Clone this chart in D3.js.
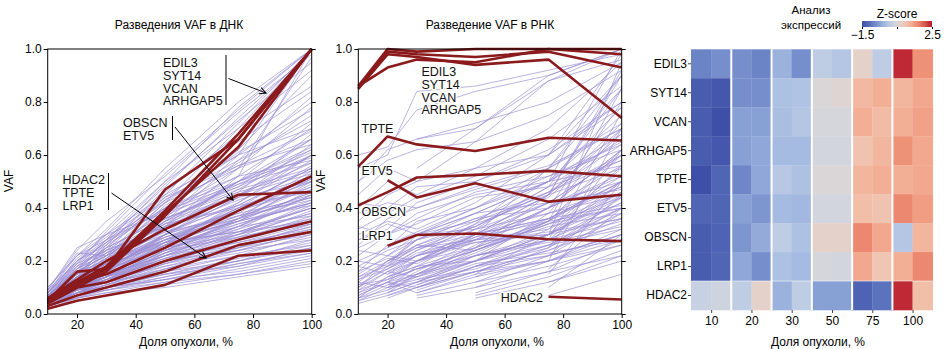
<!DOCTYPE html>
<html>
<head>
<meta charset="utf-8">
<script src="https://cdn.jsdelivr.net/npm/d3@7"></script>
<style>
  body { margin: 0; background: #fff; }
  svg { font-family: "Liberation Sans", Arial, sans-serif; }
</style>
</head>
<body>
<div id="chart"></div>
<script>
// dilution points (tumour share, %)
var xVals = [10, 20, 30, 50, 75, 100];
var genes = ["EDIL3", "SYT14", "VCAN", "ARHGAP5", "TPTE", "ETV5", "OBSCN", "LRP1", "HDAC2"];

// highlighted genes, DNA VAF
var dnaRed = [
  [0.05, 0.16, 0.17, 0.47, 0.66, 1.0],
  [0.04, 0.11, 0.17, 0.38, 0.63, 1.0],
  [0.04, 0.10, 0.16, 0.37, 0.66, 1.0],
  [0.05, 0.12, 0.18, 0.39, 0.68, 1.0],
  [0.06, 0.13, 0.20, 0.32, 0.45, 0.46],
  [0.05, 0.12, 0.15, 0.25, 0.39, 0.52],
  [0.04, 0.10, 0.12, 0.20, 0.28, 0.35],
  [0.03, 0.07, 0.10, 0.16, 0.26, 0.31],
  [0.02, 0.05, 0.07, 0.11, 0.22, 0.24]
];

// highlighted genes, RNA VAF
var rnaRed = [
  [0.86, 1.0, 0.99, 1.0, 1.0, 1.0],
  [0.85, 0.98, 0.97, 0.94, 0.96, 0.74],
  [0.86, 0.93, 0.96, 0.95, 1.0, 0.98],
  [0.85, 0.99, 0.98, 0.97, 0.99, 0.93],
  [0.556, 0.67, 0.64, 0.615, 0.665, 0.655],
  [0.41, 0.46, 0.515, 0.525, 0.54, 0.52],
  [null, 0.505, 0.44, 0.493, 0.424, 0.45],
  [null, 0.257, 0.298, 0.304, 0.282, 0.275],
  [null, null, null, null, 0.065, 0.055]
];

// all other variants, DNA VAF
var dnaOther = [
  [0.08,0.2,0.3,0.5,0.78,1.0],[0.06,0.15,0.25,0.45,0.72,1.0],[0.1,0.22,0.32,0.55,0.8,1.0],
  [0.05,0.12,0.22,0.42,0.7,1.0],[0.07,0.18,0.28,0.48,0.74,0.99],[0.04,0.1,0.2,0.36,0.6,1.0],
  [0.06,0.14,0.24,0.44,0.62,1.0],[0.09,0.24,0.35,0.52,0.76,0.98],[0.05,0.13,0.19,0.33,0.55,0.97],
  [0.03,0.09,0.14,0.3,0.52,1.0],[0.07,0.16,0.22,0.4,0.62,0.9],[0.06,0.17,0.26,0.46,0.68,0.86],
  [0.05,0.11,0.18,0.35,0.58,0.82],[0.08,0.19,0.27,0.43,0.6,0.8],[0.04,0.12,0.2,0.38,0.55,0.78],
  [0.06,0.14,0.21,0.4,0.57,0.75],[0.05,0.13,0.2,0.34,0.5,0.72],[0.07,0.16,0.24,0.38,0.52,0.7],
  [0.04,0.1,0.17,0.3,0.46,0.68],[0.06,0.15,0.23,0.36,0.48,0.66],[0.05,0.12,0.16,0.3,0.44,0.64],
  [0.08,0.2,0.26,0.4,0.5,0.63],[0.05,0.11,0.18,0.32,0.47,0.62],[0.04,0.09,0.14,0.26,0.42,0.6],
  [0.06,0.14,0.2,0.35,0.45,0.6],[0.05,0.12,0.19,0.3,0.42,0.58],[0.07,0.16,0.22,0.33,0.45,0.57],
  [0.04,0.1,0.15,0.27,0.4,0.56],[0.06,0.13,0.2,0.31,0.41,0.55],[0.05,0.12,0.17,0.29,0.38,0.54],
  [0.03,0.08,0.13,0.24,0.36,0.53],[0.06,0.15,0.21,0.32,0.43,0.52],[0.05,0.11,0.16,0.27,0.37,0.51],
  [0.04,0.1,0.15,0.25,0.35,0.5],[0.07,0.17,0.23,0.34,0.4,0.5],[0.05,0.12,0.18,0.28,0.36,0.49],
  [0.06,0.14,0.19,0.3,0.39,0.48],[0.04,0.09,0.13,0.23,0.33,0.47],[0.05,0.11,0.17,0.27,0.35,0.46],
  [0.08,0.18,0.24,0.33,0.41,0.46],[0.03,0.08,0.12,0.22,0.32,0.45],[0.05,0.13,0.18,0.28,0.37,0.45],
  [0.06,0.14,0.2,0.29,0.36,0.44],[0.04,0.1,0.14,0.24,0.33,0.43],[0.05,0.12,0.16,0.26,0.34,0.42],
  [0.07,0.15,0.19,0.28,0.35,0.42],[0.04,0.09,0.13,0.22,0.3,0.41],[0.05,0.11,0.15,0.25,0.32,0.4],
  [0.06,0.13,0.18,0.27,0.31,0.4],[0.03,0.08,0.12,0.2,0.29,0.39],[0.05,0.1,0.14,0.23,0.31,0.38],
  [0.04,0.12,0.17,0.25,0.3,0.38],[0.06,0.14,0.19,0.26,0.33,0.37],[0.05,0.1,0.13,0.21,0.28,0.36],
  [0.04,0.09,0.14,0.22,0.29,0.35],[0.07,0.16,0.2,0.27,0.31,0.35],[0.04,0.1,0.13,0.2,0.27,0.34],
  [0.05,0.11,0.14,0.21,0.26,0.33],[0.03,0.08,0.11,0.18,0.25,0.32],[0.06,0.12,0.15,0.22,0.27,0.32],
  [0.04,0.09,0.12,0.19,0.24,0.31],[0.05,0.1,0.14,0.2,0.25,0.3],[0.03,0.07,0.1,0.16,0.22,0.3],
  [0.04,0.09,0.13,0.18,0.23,0.29],[0.06,0.13,0.16,0.2,0.24,0.28],[0.03,0.08,0.1,0.15,0.21,0.27],
  [0.04,0.09,0.12,0.17,0.22,0.26],[0.05,0.1,0.12,0.16,0.2,0.25],[0.03,0.07,0.09,0.14,0.19,0.24],
  [0.04,0.08,0.11,0.15,0.18,0.23],[0.03,0.06,0.08,0.12,0.17,0.22],[0.05,0.09,0.1,0.13,0.16,0.21],
  [0.02,0.05,0.07,0.11,0.15,0.2],[0.04,0.07,0.09,0.12,0.15,0.19],[0.03,0.06,0.08,0.1,0.14,0.18],
  [0.09,0.25,0.3,0.45,0.6,0.7],[0.08,0.23,0.22,0.35,0.5,0.62],[0.1,0.22,0.28,0.42,0.55,0.66],
  [0.06,0.2,0.27,0.4,0.52,0.58],[0.07,0.21,0.29,0.44,0.56,0.64],[0.05,0.18,0.25,0.36,0.47,0.55],
  [0.08,0.22,0.3,0.38,0.48,0.6],[0.06,0.19,0.24,0.33,0.44,0.5],[0.05,0.16,0.22,0.3,0.38,0.44],
  [0.04,0.14,0.2,0.28,0.35,0.41],[0.06,0.17,0.23,0.31,0.37,0.43],[0.05,0.15,0.21,0.34,0.45,0.53],
  [0.07,0.13,0.19,0.37,0.5,0.59],[0.04,0.11,0.18,0.35,0.49,0.61],[0.05,0.12,0.21,0.41,0.56,0.69],
  [0.06,0.15,0.25,0.43,0.58,0.73],[0.04,0.13,0.23,0.42,0.61,0.77],[0.05,0.14,0.26,0.47,0.65,0.84],
  [0.07,0.17,0.28,0.5,0.7,0.92],[0.06,0.16,0.27,0.49,0.73,0.95],[0.08,0.19,0.31,0.53,0.77,1.0],
  [0.04,0.1,0.16,0.28,0.39,0.47],[0.05,0.09,0.15,0.26,0.36,0.44],[0.03,0.1,0.14,0.24,0.34,0.42],
  [0.04,0.11,0.16,0.23,0.3,0.36],[0.05,0.13,0.17,0.24,0.29,0.34],[0.03,0.09,0.12,0.19,0.26,0.33],
  [0.04,0.08,0.11,0.17,0.24,0.31],[0.02,0.06,0.1,0.17,0.25,0.34],[0.03,0.07,0.11,0.19,0.28,0.37],
  [0.04,0.08,0.13,0.21,0.31,0.4],[0.05,0.09,0.14,0.24,0.35,0.46],[0.03,0.08,0.12,0.23,0.36,0.48],
  [0.06,0.11,0.15,0.26,0.4,0.52],[0.04,0.1,0.14,0.27,0.41,0.55],[0.05,0.1,0.17,0.3,0.44,0.6],
  [0.06,0.12,0.19,0.33,0.5,0.66],[0.08,0.17,0.25,0.36,0.46,0.54],[0.09,0.2,0.28,0.39,0.49,0.57],
  [0.07,0.14,0.19,0.29,0.39,0.5],[0.06,0.12,0.17,0.28,0.4,0.51],[0.05,0.11,0.15,0.22,0.33,0.45],
  [0.04,0.09,0.12,0.2,0.3,0.42],[0.03,0.07,0.1,0.14,0.2,0.28],[0.04,0.08,0.1,0.13,0.18,0.25],
  [0.05,0.08,0.1,0.15,0.2,0.26],[0.03,0.06,0.09,0.13,0.19,0.23]
];

// all other variants, RNA VAF (null = not detected at that dilution)
var rnaOther = [
  [0.05,0.1,0.12,0.2,0.3,0.45],[0.08,0.14,0.18,0.25,0.35,0.5],[0.1,0.18,0.22,0.3,0.42,0.6],
  [0.12,0.2,0.28,0.38,0.5,0.75],[0.06,0.09,0.15,0.22,0.28,0.35],[0.15,0.22,0.3,0.35,0.45,0.55],
  [0.2,0.25,0.35,0.4,0.55,0.7],[0.25,0.3,0.38,0.45,0.5,0.65],[0.3,0.35,0.32,0.42,0.6,0.9],
  [0.35,0.45,0.5,0.55,0.7,0.95],[0.6,0.63,0.77,0.84,0.9,1.0],[0.55,0.6,0.84,0.86,0.92,0.98],
  [0.5,0.62,0.66,0.7,0.88,1.0],[0.4,0.5,0.45,0.55,0.6,0.8],[0.45,0.55,0.5,0.65,0.75,0.92],
  [0.38,0.42,0.4,0.48,0.56,0.7],[0.1,0.16,0.2,0.32,0.48,0.85],[0.07,0.12,0.15,0.26,0.4,0.62],
  [0.04,0.07,0.1,0.18,0.25,0.4],[0.09,0.13,0.2,0.28,0.32,0.46],[0.18,0.24,0.28,0.36,0.4,0.52],
  [0.22,0.3,0.34,0.44,0.48,0.58],[0.28,0.32,0.42,0.5,0.62,0.8],[0.13,0.19,0.25,0.3,0.38,0.48],
  [0.11,0.17,0.24,0.34,0.44,0.68],[0.05,0.08,0.12,0.16,0.22,0.3],[0.06,0.11,0.14,0.2,0.26,0.38],
  [0.16,0.26,0.31,0.4,0.52,0.64],[0.14,0.2,0.26,0.33,0.46,0.58],[0.32,0.38,0.44,0.52,0.66,0.86],
  [0.26,0.36,0.4,0.47,0.55,0.72],[0.08,0.12,0.17,0.24,0.34,0.44],
  [0.07,0.12,0.08,0.15,0.2,0.28],[0.12,0.1,0.18,0.2,0.3,0.42],[0.18,0.15,0.22,0.28,0.3,0.46],
  [0.09,0.16,0.14,0.24,0.33,0.38],[0.14,0.18,0.26,0.24,0.36,0.5],[0.2,0.18,0.3,0.32,0.42,0.47],
  [0.24,0.22,0.28,0.36,0.46,0.6],[0.1,0.2,0.25,0.28,0.4,0.53],[0.06,0.14,0.2,0.3,0.36,0.41],
  [0.11,0.13,0.17,0.22,0.27,0.33],[0.16,0.21,0.19,0.29,0.35,0.4],[0.13,0.17,0.22,0.27,0.3,0.36],
  [0.28,0.34,0.3,0.4,0.5,0.56],[0.33,0.3,0.36,0.46,0.52,0.62],[0.42,0.4,0.48,0.5,0.6,0.78],
  [null,0.06,0.1,0.16,0.24,0.36],[null,0.08,0.12,0.2,0.3,0.44],[null,0.1,0.16,0.28,0.36,0.5],
  [null,0.12,0.2,0.25,0.4,0.62],[null,0.14,0.18,0.3,0.45,0.7],[null,0.07,0.11,0.18,0.22,0.3],
  [null,0.2,0.26,0.35,0.5,0.78],[null,0.16,0.22,0.34,0.55,0.9],[null,0.09,0.14,0.22,0.28,0.4],
  [null,0.25,0.3,0.38,0.42,0.5],[null,0.18,0.24,0.32,0.38,0.45],[null,0.11,0.15,0.2,0.32,0.55],
  [null,0.1,0.13,0.17,0.26,0.32],[null,0.13,0.17,0.24,0.34,0.4],[null,0.15,0.2,0.27,0.31,0.36],
  [null,0.22,0.2,0.3,0.36,0.48],[null,0.17,0.23,0.29,0.42,0.6],[null,0.08,0.15,0.23,0.35,0.52],
  [null,0.19,0.28,0.33,0.48,0.66],[null,0.12,0.1,0.16,0.2,0.26],
  [null,null,0.06,0.1,0.16,0.22],[null,null,0.08,0.14,0.2,0.3],[null,null,0.1,0.18,0.26,0.4],
  [null,null,0.12,0.22,0.3,0.5],[null,null,0.15,0.25,0.35,0.6],[null,null,0.2,0.3,0.45,0.72],
  [null,null,0.66,0.72,0.8,0.95],[null,null,0.07,0.12,0.18,0.26],[null,null,0.3,0.38,0.5,0.68],
  [null,null,0.55,0.7,0.9,1.0],[0.5,0.58,0.62,0.65,0.88,0.96],
  [null,null,0.09,0.16,0.24,0.34],[null,null,0.13,0.2,0.28,0.42],[null,null,0.17,0.24,0.34,0.46],
  [null,null,0.11,0.19,0.23,0.28],[null,null,0.22,0.28,0.4,0.56],[null,null,0.25,0.33,0.46,0.64],
  [null,null,null,0.06,0.12,0.2],[null,null,null,0.08,0.16,0.28],[null,null,null,0.12,0.22,0.38],
  [null,null,null,0.15,0.3,0.56],[null,null,null,0.2,0.38,0.7],[null,null,null,0.3,0.55,0.85],
  [null,null,null,0.1,0.2,0.32],[null,null,null,0.25,0.45,0.9],
  [null,null,null,0.07,0.14,0.24],[null,null,null,0.14,0.25,0.44],[null,null,null,0.18,0.28,0.5],
  [null,null,null,0.22,0.35,0.62],
  [null,null,null,null,0.07,0.15],[null,null,null,null,0.1,0.3],[null,null,null,null,0.15,0.5],
  [null,null,null,null,0.2,0.7],[null,null,null,null,0.3,0.95],[null,null,null,null,0.35,0.85],
  [null,null,null,null,0.12,0.22],[null,null,null,null,0.5,1.0],[null,null,null,null,0.6,0.98],
  [null,null,null,null,0.45,0.92],[null,null,null,null,0.17,0.4],[null,null,null,null,0.25,0.62],
  [null,null,null,null,0.4,0.8],[null,null,null,null,0.22,0.45],[null,null,null,null,0.28,0.76]
];

// expression heatmap: 6 dilutions x 2 replicates, z-scores
var heatGroups = ["10", "20", "30", "50", "75", "100"];
var heatZ = [
  [-0.82, -0.7, -0.7, -0.82, -0.3, -0.7, 0.1, -0.02, 0.7, 0.1, 2.38, 1.62],
  [-1.3, -1.38, -0.7, -0.7, -0.1, -0.06, 0.5, 0.58, 1.18, 1.3, 1.22, 1.38],
  [-1.3, -1.5, -0.5, -0.5, -0.14, -0.02, 0.42, 0.42, 1.3, 1.14, 1.3, 1.46],
  [-1.3, -1.38, -0.5, -0.42, -0.18, -0.18, 0.38, 0.38, 1.02, 1.22, 1.62, 1.38],
  [-1.5, -1.18, -0.78, -0.42, 0.02, -0.1, 0.5, 0.5, 1.22, 1.3, 1.3, 1.38],
  [-1.18, -1.18, -0.5, -0.62, -0.18, -0.22, 0.38, 0.38, 1.1, 1.02, 1.7, 1.5],
  [-1.3, -1.22, -0.62, -0.38, 0.1, -0.1, 0.7, 0.7, 1.7, 1.38, -0.02, 1.22],
  [-1.3, -1.18, -0.42, -0.7, -0.1, -0.18, 0.42, 0.38, 1.38, 0.98, 1.3, 1.7],
  [0.22, 0.3, 0.1, 0.7, -0.3, 0.1, -0.5, -0.5, -1.22, -1.02, 2.38, 1.1]
];
var zRange = [-1.5, 2.5];

var W = 946, H = 349;
var redColor = "#8b1a1c", purple = "#9a8dd4";

var svg = d3.select("#chart").append("svg")
  .attr("width", W).attr("height", H);

var y = d3.scaleLinear().domain([0, 1]).range([314, 49]);

function drawPanel(x0, x1, title, titleX, xlabX, yLabX, redData, otherData) {
  var x = d3.scaleLinear().domain([10, 100]).range([x0, x1]);
  var line = d3.line()
    .defined(function (d) { return d[1] != null; })
    .x(function (d) { return x(d[0]); })
    .y(function (d) { return y(d[1]); });
  var pts = function (arr) { return arr.map(function (v, i) { return [xVals[i], v]; }); };

  var g = svg.append("g");
  g.append("g").selectAll("path").data(otherData).join("path")
    .attr("d", function (d) { return line(pts(d)); })
    .attr("fill", "none").attr("stroke", purple)
    .attr("stroke-width", 0.8).attr("opacity", 0.85);
  g.append("g").selectAll("path").data(redData).join("path")
    .attr("d", function (d) { return line(pts(d)); })
    .attr("fill", "none").attr("stroke", redColor)
    .attr("stroke-width", 2.6).attr("stroke-linejoin", "round");

  // frame and axes
  g.append("rect").attr("x", x0).attr("y", y(1)).attr("width", x1 - x0).attr("height", y(0) - y(1))
    .attr("fill", "none").attr("stroke", "#000").attr("stroke-width", 1);
  var yt = [0, 0.2, 0.4, 0.6, 0.8, 1.0];
  g.append("g").attr("transform", "translate(" + x0 + ",0)")
    .call(d3.axisLeft(y).tickValues(yt).tickFormat(d3.format(".1f")).tickSize(4).tickPadding(2));
  g.append("g").attr("transform", "translate(" + x1 + ",0)")
    .call(d3.axisRight(y).tickValues(yt).tickFormat("").tickSize(4));
  g.append("g").attr("transform", "translate(0," + y(0) + ")")
    .call(d3.axisBottom(x).tickValues([20, 40, 60, 80, 100]).tickSize(4).tickPadding(2));
  g.selectAll(".domain").remove();
  g.selectAll(".tick text").attr("font-size", 12).attr("font-family", "Liberation Sans, Arial, sans-serif").attr("fill", "#000");

  g.append("text").attr("x", titleX).attr("y", 29).attr("text-anchor", "middle")
    .attr("font-size", 12).text(title);
  g.append("text").attr("x", xlabX).attr("y", 346).attr("text-anchor", "middle")
    .attr("font-size", 12).text("Доля опухоли, %");
  g.append("text").attr("transform", "translate(" + yLabX + ",181) rotate(-90)")
    .attr("text-anchor", "middle").attr("font-size", 12).text("VAF");
  return g;
}

function label(g, txt, x, yy, anchor) {
  g.append("text").attr("x", x).attr("y", yy).attr("font-size", 12.5)
    .attr("text-anchor", anchor || "start")
    .attr("stroke", "#fff").attr("stroke-width", 2.5).attr("paint-order", "stroke")
    .attr("fill", "#111").text(txt);
}

svg.append("defs").append("marker").attr("id", "arr")
  .attr("viewBox", "0 0 10 10").attr("refX", 9).attr("refY", 5)
  .attr("markerWidth", 8).attr("markerHeight", 8).attr("orient", "auto")
  .append("path").attr("d", "M1,1 L9,5 L1,9").attr("fill", "none")
  .attr("stroke", "#000").attr("stroke-width", 1.3);

// --- DNA panel
var gL = drawPanel(47.7, 311.7, "Разведения VAF в ДНК", 179, 186, 13, dnaRed, dnaOther);
function group(g, names, x, y0, step, barX, barY0, barY1, ax0, ay0, ax1, ay1) {
  names.forEach(function (n, i) { label(g, n, x, y0 + i * step); });
  g.append("line").attr("x1", barX).attr("x2", barX).attr("y1", barY0).attr("y2", barY1)
    .attr("stroke", "#000").attr("stroke-width", 1);
  g.append("line").attr("x1", ax0).attr("y1", ay0).attr("x2", ax1).attr("y2", ay1)
    .attr("stroke", "#000").attr("stroke-width", 1).attr("marker-end", "url(#arr)");
}
group(gL, ["EDIL3", "SYT14", "VCAN", "ARHGAP5"], 163, 67, 12.8, 226, 55, 105, 228.5, 78.5, 266, 93);
group(gL, ["OBSCN", "ETV5"], 123, 127, 12.8, 172.5, 116, 140, 175, 127, 233, 200);
group(gL, ["HDAC2", "TPTE", "LRP1"], 62.5, 184, 13.2, 108.5, 173, 210, 111.5, 193, 206, 258);

// --- RNA panel
var gM = drawPanel(358.3, 621.7, "Разведение VAF в РНК", 490, 497, 325, rnaRed, rnaOther);
["EDIL3", "SYT14", "VCAN", "ARHGAP5"].forEach(function (n, i) { label(gM, n, 421.5, 76 + i * 12.8); });
label(gM, "TPTE", 361.5, 132.5);
label(gM, "ETV5", 361.5, 174.5);
label(gM, "OBSCN", 361.5, 216);
label(gM, "LRP1", 361.5, 239.5);
label(gM, "HDAC2", 543, 301.5, "end");

// --- expression heatmap
var cols = d3.range(12);
var hx = d3.scaleBand().domain(cols).range([691, 932.7]);
var hy = d3.scaleBand().domain(genes).range([49.3, 310]);
var coolwarm = d3.interpolateRgbBasis(["#3d4fa6", "#5a72bd", "#88a2d6", "#b8cbea", "#dcdcdc",
  "#f3c7b2", "#f4a084", "#df6650", "#b4162c"]);
var color = d3.scaleSequential(coolwarm).domain(zRange).clamp(true);

var gH = svg.append("g");
var cells = [];
heatZ.forEach(function (row, r) { row.forEach(function (v, c) { cells.push({ g: genes[r], c: c, v: v }); }); });
gH.selectAll("rect.cell").data(cells).join("rect").attr("class", "cell")
  .attr("x", function (d) { return hx(d.c); }).attr("y", function (d) { return hy(d.g); })
  .attr("width", hx.bandwidth() + 0.3).attr("height", hy.bandwidth() + 0.3)
  .attr("fill", function (d) { return color(d.v); });
// group separators
gH.selectAll("line.sep").data([2, 4, 6, 8, 10]).join("line").attr("class", "sep")
  .attr("x1", function (d) { return hx(d); }).attr("x2", function (d) { return hx(d); })
  .attr("y1", 49.3).attr("y2", 310).attr("stroke", "#fff").attr("stroke-width", 2);
gH.append("line").attr("x1", 691).attr("x2", 932.7).attr("y1", hy("HDAC2")).attr("y2", hy("HDAC2"))
  .attr("stroke", "#fff").attr("stroke-width", 0.8).attr("opacity", 0.7);

var hxg = d3.scalePoint().domain(heatGroups).range([hx(0) + hx.bandwidth(), hx(10) + hx.bandwidth()]);
gH.append("g").attr("transform", "translate(0,310)")
  .call(d3.axisBottom(hxg).tickSize(3).tickPadding(3));
gH.append("g").attr("transform", "translate(691,0)")
  .call(d3.axisLeft(hy).tickSize(3).tickPadding(1));
gH.selectAll(".domain").remove();
gH.selectAll(".tick line").attr("stroke", "#444");
gH.selectAll(".tick text").attr("font-size", 12).attr("font-family", "Liberation Sans, Arial, sans-serif").attr("fill", "#000");
gH.append("text").attr("x", 818).attr("y", 346).attr("text-anchor", "middle")
  .attr("font-size", 12).text("Доля опухоли, %");
gH.append("text").attr("x", 811).attr("y", 14).attr("text-anchor", "middle").attr("font-size", 11.5).text("Анализ");
gH.append("text").attr("x", 811).attr("y", 29).attr("text-anchor", "middle").attr("font-size", 11.5).text("экспрессий");

// colour legend
var lx = d3.scaleLinear().domain(zRange).range([862, 932]);
var grad = svg.select("defs").append("linearGradient").attr("id", "zgrad");
d3.range(0, 1.001, 0.1).forEach(function (t) {
  grad.append("stop").attr("offset", t).attr("stop-color", coolwarm(t));
});
gH.append("rect").attr("x", lx(zRange[0])).attr("y", 21).attr("width", lx(zRange[1]) - lx(zRange[0]))
  .attr("height", 6).attr("fill", "url(#zgrad)");
gH.append("text").attr("x", 897).attr("y", 18).attr("text-anchor", "middle").attr("font-size", 12).text("Z-score");
gH.append("g").attr("transform", "translate(0,27)")
  .call(d3.axisBottom(lx).tickValues([-1.5, 0.5, 2.5]).tickSize(2).tickPadding(1)
    .tickFormat(function (d) { return d === 0.5 ? "" : d3.format(".1f")(d); }))
  .call(function (a) { a.select(".domain").remove(); })
  .selectAll("text").attr("font-size", 12).attr("fill", "#000")
  .attr("font-family", "Liberation Sans, Arial, sans-serif");
</script>
</body>
</html>
